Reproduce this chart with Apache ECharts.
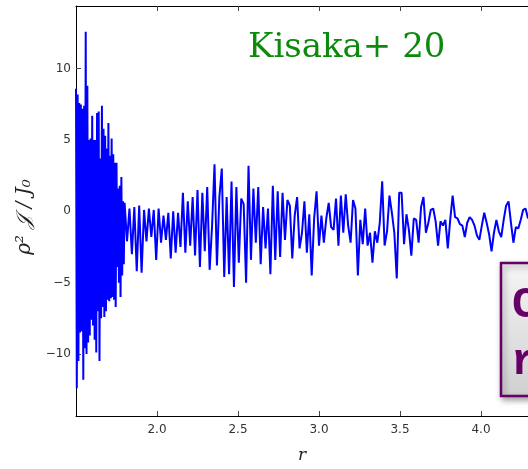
<!DOCTYPE html>
<html>
<head>
<meta charset="utf-8">
<script src="https://cdn.jsdelivr.net/npm/echarts@6/dist/echarts.min.js"></script>
<style>
  html, body { margin: 0; padding: 0; background: #fff; }
  #chart { width: 528px; height: 469px; }
</style>
</head>
<body>
<div id="chart"></div>
<script>
// sample grid (r) for the two parts of the trace
const denseStart = 1.5;
const denseStep = 0.005;
const sparseStart = 1.815;
const sparseStep = 0.015;

// rho^2 J / J0, fast oscillating part near r = 1.5 .. 1.8
const denseVals = [
  8.6, -12.4, 8.2, -10.5, 7.6, -8.5, 7.5, -8.4, 7.2, -11.8,
  7.4, -9.6, 12.6, -10.0, 8.8, -9.2, 5.0, -8.7, 5.1, -7.6,
  6.7, -8.0, 5.0, -9.0, 5.0, -9.9, 6.9, -7.0, 7.0, -10.5,
  3.7, -7.5, 7.4, -6.7, 5.8, -7.4, 5.3, -7.0, 4.4, -6.2,
  6.2, -6.3, 3.9, -6.1, 5.1, -6.0, 4.0, -6.2, 3.4, -6.7,
  3.4, -3.9, 1.6, -5.0, 1.8, -6.0, 2.4, -4.5, 0.7, -3.7,
  0.6
];

// rho^2 J / J0 from r = 1.815 on
const sparseVals = [
  -2.1, 0.2, -3.0, 0.3, -4.2, 0.4, -4.3, 0.1, -2.1, 0.2,
  -1.8, 0.1, -3.4, 0.2, -2.2, -0.3, -2.0, -0.1, -3.3, 0.0,
  -2.9, -0.1, -2.5, 1.3, -2.9, 0.7, -2.4, 1.0, -3.1, 1.5,
  -3.9, 1.3, -2.8, 1.7, -4.1, -1.0, 3.3, -3.8, 1.0, 3.0,
  -4.6, 1.0, -4.4, 2.1, -5.3, 1.7, -3.6, 0.9, 0.5, -5.0,
  3.2, -3.4, 1.6, -2.2, 1.7, -3.7, 0.3, -2.6, 0.2, -4.4,
  1.8, -3.4, 1.4, -3.2, 1.3, -2.0, 0.8, 0.4, -3.3, -0.3,
  1.0, -2.6, -1.5, 0.7, -2.9, -0.2, -4.5, -0.5, 1.4, -2.4,
  -0.3, -2.2, -0.5, 0.6, -1.1, -1.3, 0.9, -2.4, 1.1, -1.5,
  1.2, -1.0, -2.2, 0.8, 0.2, -4.5, -0.6, -2.3, 0.2, -2.4,
  -1.5, -3.6, -1.4, -2.2, -0.8, 2.1, -2.4, -1.4, 1.1, -0.1,
  -1.5, -4.7, 1.3, 1.3, -2.3, -0.2, -1.3, -3.1, -0.5, -0.6,
  -2.2, 0.3, 1.0, -1.5, -0.8, 0.1, 0.2, -0.7, -2.4, -0.7,
  -1.0, -0.6, -2.6, -0.6, 1.1, -0.4, -0.5, -0.9, -1.0, -1.8,
  -0.8, -0.4, -0.6, -1.0, -1.7, -2.0, -1.0, -0.1, -0.8, -1.6,
  -2.8, -1.5, -0.6, -1.4, -1.8, -0.6, 0.4, 0.7, -0.8, -2.2,
  -1.1, -1.2, -0.6, 0.1, 0.2, -0.5
];

const xTicks = [2.0, 2.5, 3.0, 3.5, 4.0];
const yTicks = [-10, -5, 0, 5, 10];

const points = [];
denseVals.forEach((v, i) => points.push([denseStart + i * denseStep, v]));
sparseVals.forEach((v, i) => points.push([sparseStart + i * sparseStep, v]));

const xMin = 1.5;
const xMax = 1.5 + 452 / 162;

const tickStyle = { show: true, inside: true, length: 5, lineStyle: { color: '#444', width: 1 } };
const spine = { show: true, onZero: false, lineStyle: { color: '#000', width: 1 } };

const chart = echarts.init(document.getElementById('chart'));
chart.setOption({
  animation: false,
  backgroundColor: '#fff',
  grid: { left: 76, top: 6, right: 0, bottom: 46 },
  xAxis: [
    {
      type: 'value', min: xMin, max: xMax, position: 'bottom',
      axisLine: spine,
      axisTick: Object.assign({ customValues: xTicks }, tickStyle),
      axisLabel: {
        customValues: xTicks, margin: 8, color: '#333',
        fontFamily: 'DejaVu Sans', fontSize: 12,
        formatter: v => v.toFixed(1)
      },
      splitLine: { show: false },
      name: 'r', nameLocation: 'middle', nameGap: 31,
      nameTextStyle: { fontFamily: 'DejaVu Serif', fontStyle: 'italic', fontSize: 17, color: '#222' }
    },
    {
      type: 'value', min: xMin, max: xMax, position: 'top',
      axisLine: spine,
      axisTick: Object.assign({ customValues: xTicks }, tickStyle),
      axisLabel: { show: false },
      splitLine: { show: false }
    }
  ],
  yAxis: {
    type: 'value', min: -14.35, max: 14.4,
    axisLine: spine,
    axisTick: Object.assign({ customValues: yTicks }, tickStyle),
    axisLabel: {
      customValues: yTicks, margin: 5, color: '#333',
      fontFamily: 'DejaVu Sans', fontSize: 12,
      formatter: v => (v < 0 ? '\u2212' + (-v) : String(v))
    },
    splitLine: { show: false }
  },
  series: [{
    type: 'line',
    data: points,
    showSymbol: false,
    symbol: 'none',
    lineStyle: { color: '#0000ff', width: 2 },
    z: 3
  }],
  graphic: [
    {
      type: 'text', left: 248, top: 31,
      style: { text: 'Kisaka+ 20', font: '34px "DejaVu Serif"', fill: '#0b8a0b' }
    },
    {
      type: 'text', x: 25, y: 217, rotation: Math.PI / 2,
      style: {
        text: 'ρ² 𝒥 / J₀', font: 'italic 20px "DejaVu Serif"', fill: '#222',
        align: 'center', verticalAlign: 'middle'
      }
    },
    {
      type: 'rect', z: 10,
      shape: { x: 501, y: 263, width: 60, height: 133 },
      style: {
        fill: new echarts.graphic.LinearGradient(0, 0, 0, 1, [
          { offset: 0, color: '#f6f6f6' }, { offset: 1, color: '#d0d0d0' }
        ]),
        stroke: '#660066', lineWidth: 2.5,
        shadowBlur: 6, shadowColor: 'rgba(0,0,0,0.35)', shadowOffsetX: 2, shadowOffsetY: 3
      }
    },
    {
      type: 'text', z: 11, left: 512, top: 284,
      style: { text: 'C', font: 'bold 44px "Liberation Mono"', fill: '#660066' }
    },
    {
      type: 'text', z: 11, left: 511, top: 341,
      style: { text: 'r', font: 'bold 44px "Liberation Mono"', fill: '#660066' }
    }
  ]
});
</script>
</body>
</html>
